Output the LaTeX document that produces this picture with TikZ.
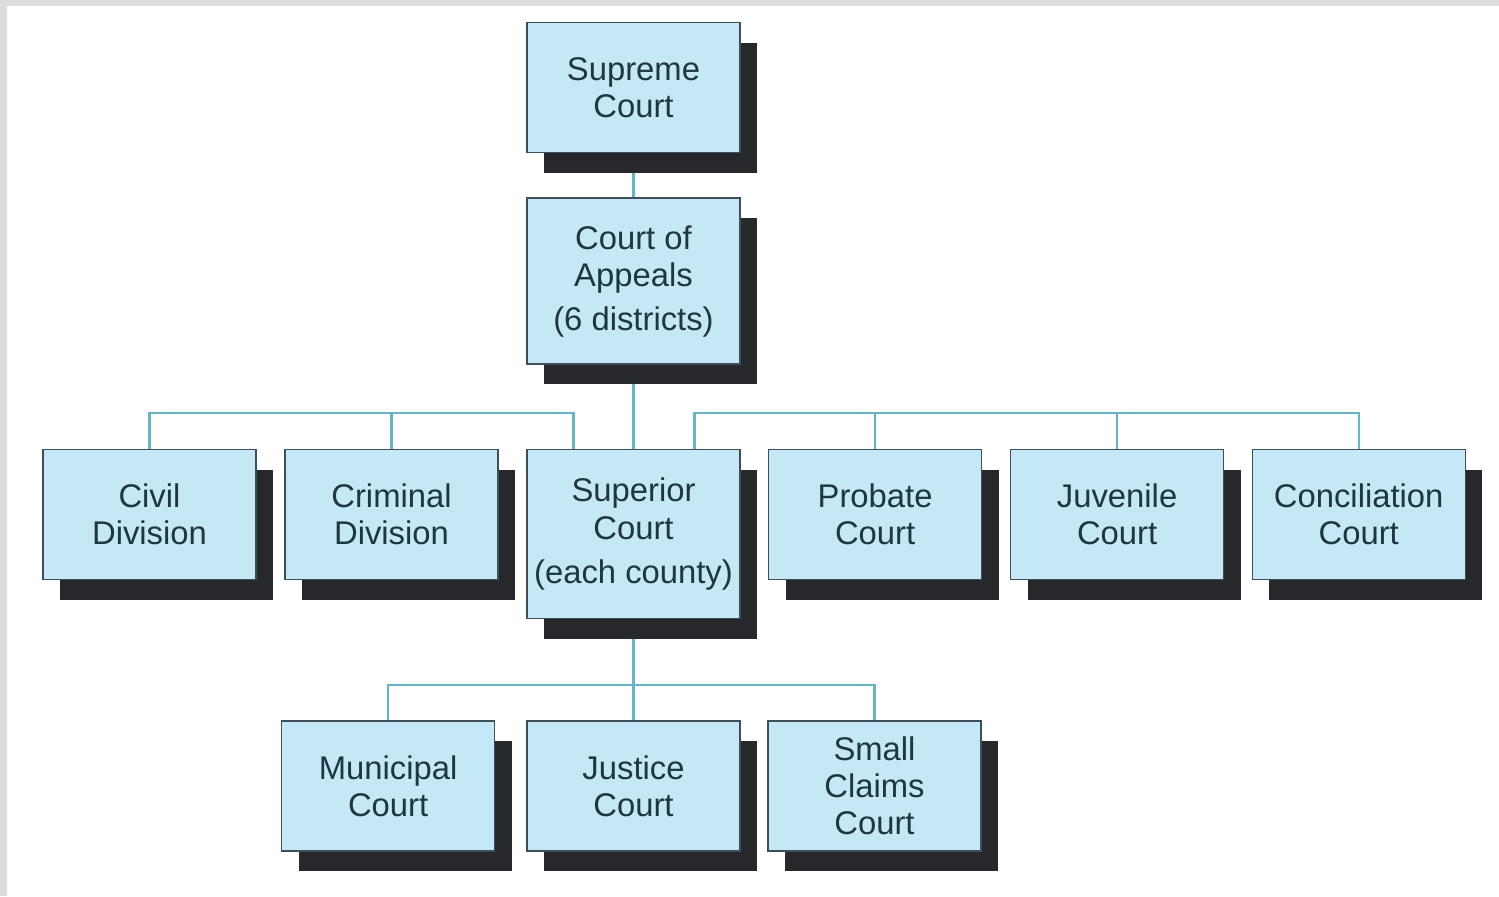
\documentclass[tikz,border=0pt]{standalone}
\usepackage{fontspec}
\setmainfont{Liberation Sans}
\usetikzlibrary{positioning,shadows,backgrounds}
\definecolor{boxfill}{HTML}{C4E8F6}
\definecolor{boxedge}{HTML}{3D4F5A}
\definecolor{boxtext}{HTML}{1E3644}
\definecolor{shadowdark}{HTML}{26282C}
\definecolor{linkteal}{HTML}{62B6C8}
\definecolor{framegray}{HTML}{DCDCDC}

\begin{document}
\begin{tikzpicture}[x=1pt,y=1pt,
    court/.style={rectangle,fill=boxfill,draw=boxedge,line width=0.7pt,
      text=boxtext,align=center,inner sep=0pt,
      minimum width=106.5pt,minimum height=65pt,
      font=\fontsize{16.4pt}{18.5pt}\selectfont,
      drop shadow={shadow xshift=8.5pt,shadow yshift=-10pt,fill=shadowdark,opacity=1}},
    link/.style={draw=linkteal,line width=1.1pt}]
\useasboundingbox (0,0) rectangle (749.5,-448);

\node[court,anchor=north]
    (supr) at (316.75,-11) {Supreme\\Court};
\node[court,minimum height=83pt]
    (app) [below=22pt of supr] {Court of\\Appeals\\[3.5pt](6 districts)};
\node[court,minimum height=84.5pt]
    (sup) [below=42pt of app] {Superior\\[0.8pt]Court\\[3.5pt](each county)};
\node[court]
    (crim) [left=13.8pt of sup.north west,anchor=north east] {Criminal\\Division};
\node[court]
    (civ) [left=13.8pt of crim] {Civil\\Division};
\node[court]
    (prob) [right=13.6pt of sup.north east,anchor=north west] {Probate\\Court};
\node[court]
    (juv) [right=13.8pt of prob] {Juvenile\\Court};
\node[court]
    (conc) [right=13.6pt of juv] {Conciliation\\Court};
\node[court]
    (just) [below=50.5pt of sup] {Justice\\Court};
\node[court]
    (muni) [left=15.5pt of just] {Municipal\\Court};
\node[court]
    (small) [right=13.3pt of just] {Small\\Claims\\Court};

\begin{scope}[on background layer]
\fill[framegray] (0,0) rectangle (749.5,-448);
\fill[white] (3.5,-3) rectangle (749.5,-448);
\path[link] (supr.south) -- (app.north)
            (app.south) -- (sup.north)
            (civ.north) -- ++(0,18) -| ([xshift=-30pt]sup.north)
            (crim.north) -- ++(0,18)
            (conc.north) -- ++(0,18) -| ([xshift=30.5pt]sup.north)
            (prob.north) -- ++(0,18)
            (juv.north) -- ++(0,18)
            (sup.south) -- (just.north)
            (muni.north) -- ++(0,17.5) -| (small.north);
\end{scope}
\end{tikzpicture}
\end{document}
